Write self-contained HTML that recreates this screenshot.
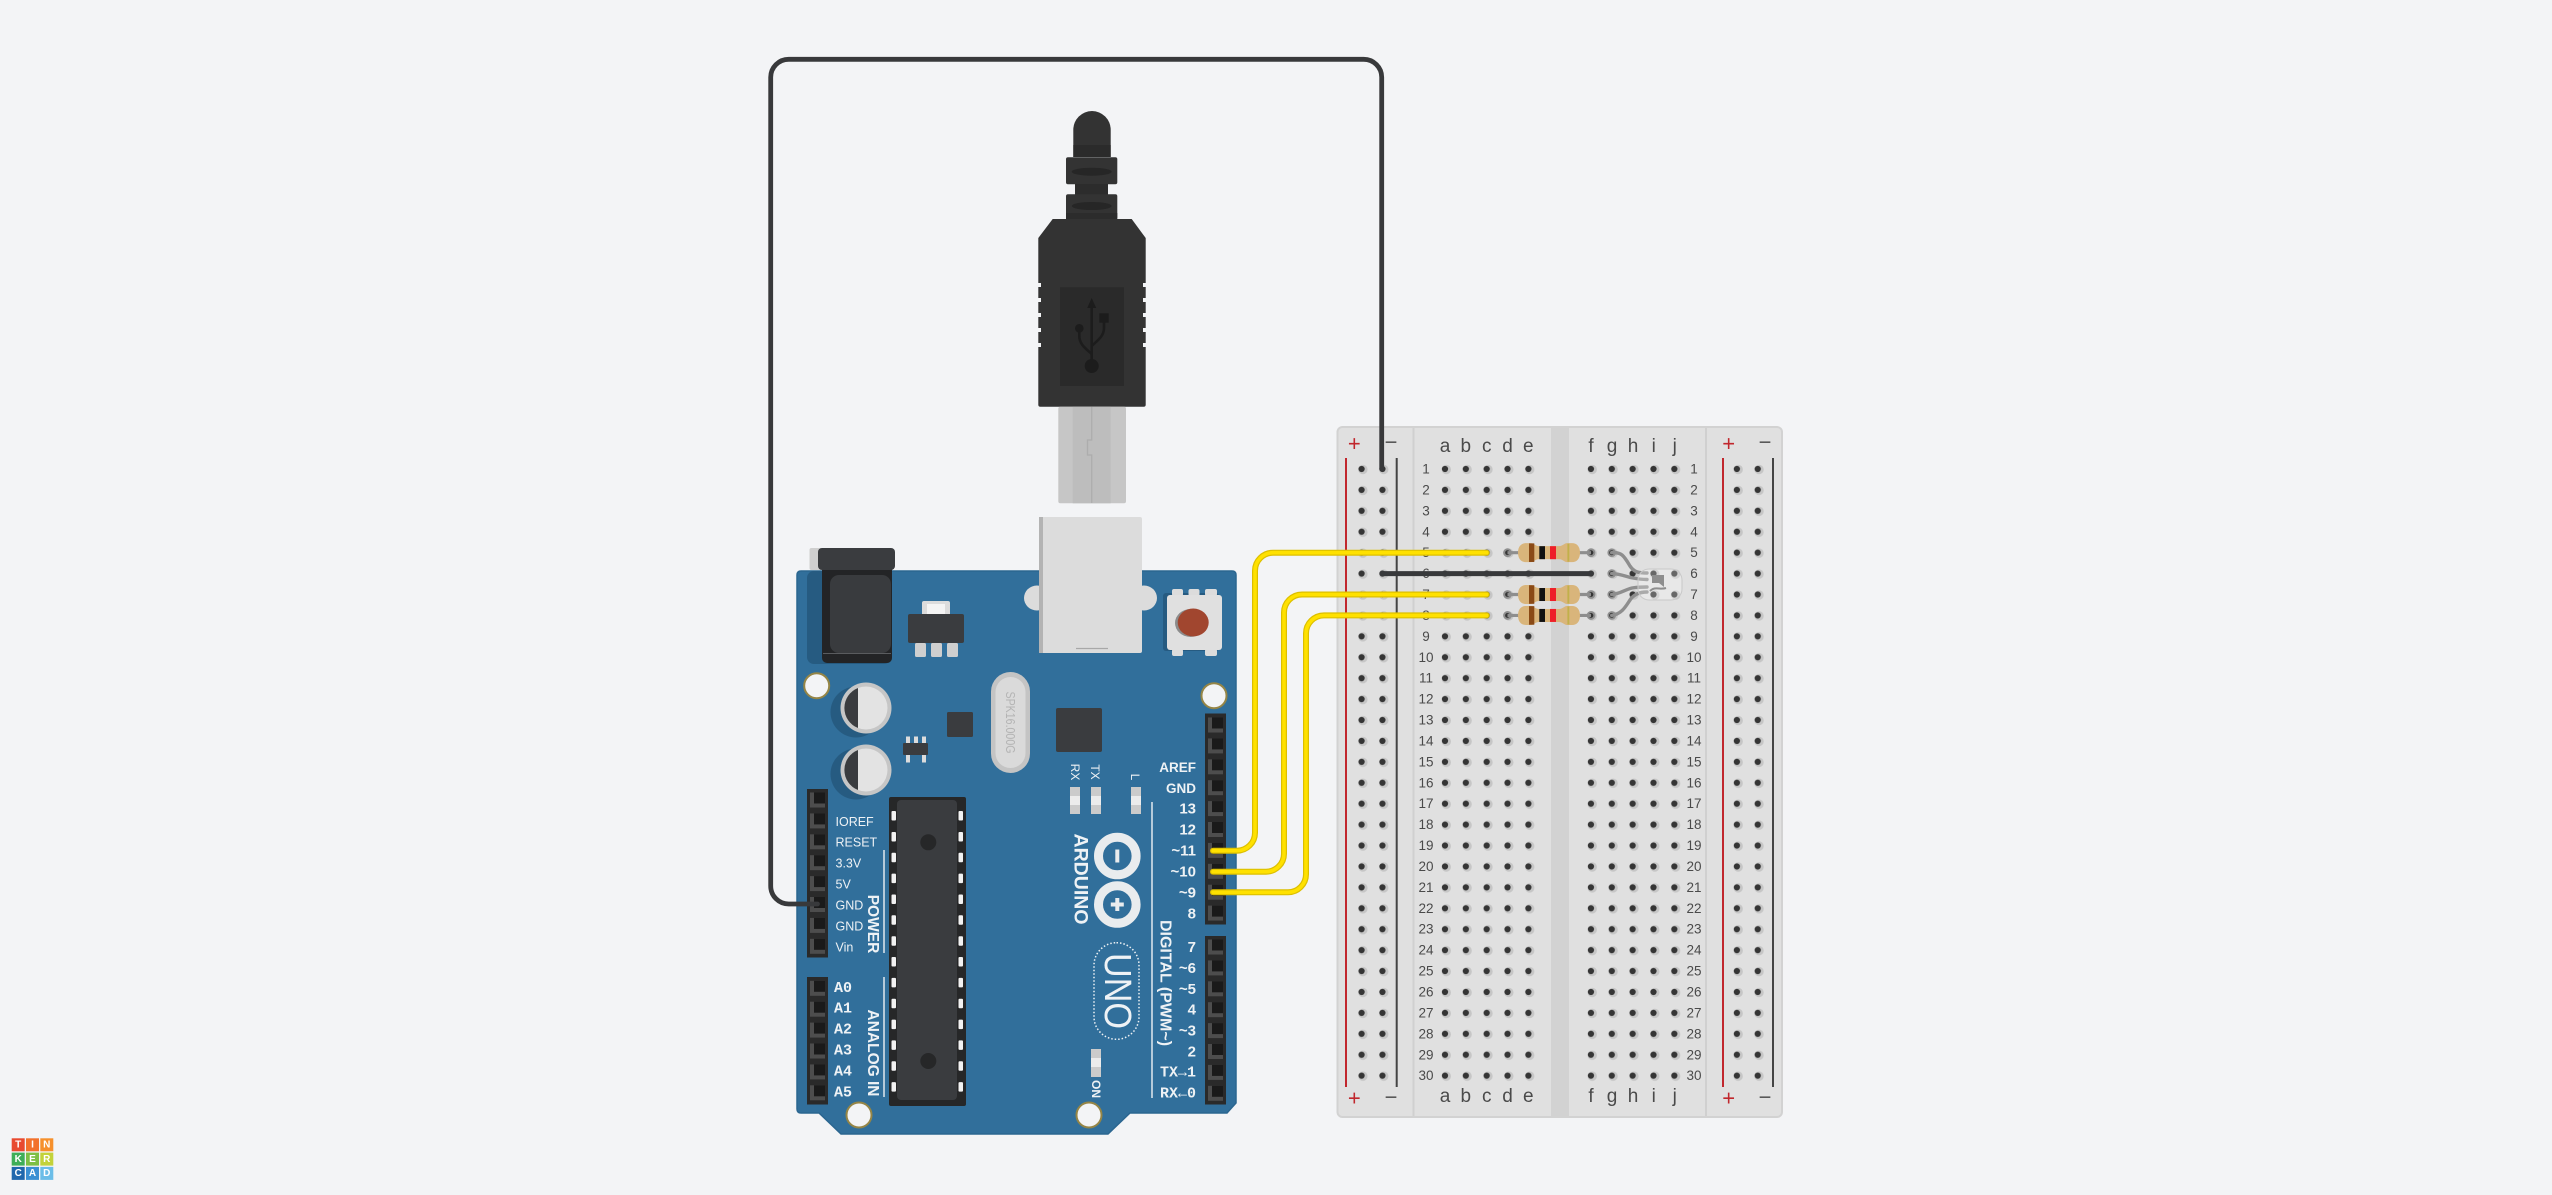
<!DOCTYPE html>
<html><head><meta charset="utf-8">
<style>
html,body{margin:0;padding:0;background:#f3f4f6;width:2552px;height:1195px;overflow:hidden;}
svg{display:block;}
text{font-family:"Liberation Sans",sans-serif;}
</style></head><body>
<svg width="2552" height="1195" viewBox="0 0 2552 1195" xmlns="http://www.w3.org/2000/svg">
<defs>
<pattern id="hole" patternUnits="userSpaceOnUse" x="1434.575" y="458.54" width="20.85" height="20.92">
 <circle cx="11.7" cy="10.96" r="4.7" fill="#c6c6c6"/>
 <circle cx="10.425" cy="10.46" r="3.1" fill="#353535"/>
</pattern>
<g id="pin"><rect x="-7.5" y="-7.5" width="15" height="15" fill="#4d4d4d"/><rect x="-3.5" y="-7.5" width="11" height="11" fill="#1a1a1a"/></g>
<g id="res">
 <line x1="1507.5" y1="0" x2="1591" y2="0" stroke="#8e8e8e" stroke-width="3.2"/>
 <circle cx="1507.5" cy="0" r="3.4" fill="none" stroke="#8e8e8e" stroke-width="2"/>
 <circle cx="1591" cy="0" r="3.4" fill="none" stroke="#8e8e8e" stroke-width="2"/>
 <path d="M1518,0 C1518,-6 1521,-9.5 1526,-9.5 L1531,-9.5 C1534,-9.5 1535,-6.5 1539,-6.5 L1559,-6.5 C1563,-6.5 1564,-9.5 1567,-9.5 L1572,-9.5 C1577,-9.5 1580,-6 1580,0 C1580,6 1577,9.5 1572,9.5 L1567,9.5 C1564,9.5 1563,6.5 1559,6.5 L1539,6.5 C1535,6.5 1534,9.5 1531,9.5 L1526,9.5 C1521,9.5 1518,6 1518,0 Z" fill="#d9b57b"/>
 <rect x="1529" y="-9.3" width="5.3" height="18.6" fill="#8a4a16"/>
 <rect x="1539.3" y="-6.5" width="5.7" height="13" fill="#111"/>
 <rect x="1550" y="-6.5" width="6" height="13" fill="#ee1f28"/>
 <rect x="1567.4" y="-9" width="1.9" height="18" fill="#c2b04a"/>
</g>
</defs>
<rect width="2552" height="1195" fill="#f3f4f6"/>

<!-- ================= BREADBOARD ================= -->
<rect x="1337.5" y="427" width="444.5" height="690" rx="5" fill="#e0e0e0" stroke="#d2d2d2" stroke-width="2"/>
<rect x="1551" y="428" width="18" height="688" fill="#d2d2d2"/>
<line x1="1413.5" y1="428" x2="1413.5" y2="1116" stroke="#d0d0d0" stroke-width="2"/>
<line x1="1706" y1="428" x2="1706" y2="1116" stroke="#d0d0d0" stroke-width="2"/>
<line x1="1346" y1="458" x2="1346" y2="1087" stroke="#c1272d" stroke-width="2"/>
<line x1="1396.7" y1="458" x2="1396.7" y2="1087" stroke="#444" stroke-width="2"/>
<line x1="1723" y1="458" x2="1723" y2="1087" stroke="#c1272d" stroke-width="2"/>
<line x1="1773" y1="458" x2="1773" y2="1087" stroke="#444" stroke-width="2"/>

<rect x="1351.175" y="458.54" width="41.7" height="627.6" fill="url(#hole)"/>
<rect x="1434.575" y="458.54" width="104.25" height="627.6" fill="url(#hole)"/>
<rect x="1580.525" y="458.54" width="104.25" height="627.6" fill="url(#hole)"/>
<rect x="1726.475" y="458.54" width="41.7" height="627.6" fill="url(#hole)"/>

<g font-size="22" fill="#c1272d" text-anchor="middle" dominant-baseline="central">
<text x="1354.3" y="443.5">+</text><text x="1728.7" y="443.5">+</text>
<text x="1354.3" y="1098">+</text><text x="1728.7" y="1098">+</text>
</g>
<g font-size="22" fill="#555" text-anchor="middle" dominant-baseline="central">
<text x="1391" y="442">−</text><text x="1765" y="442">−</text>
<text x="1391" y="1097">−</text><text x="1765" y="1097">−</text>
</g>
<g font-size="19" fill="#4a4a4a" text-anchor="middle">
<text x="1445" y="452">a</text><text x="1465.8" y="452">b</text><text x="1486.7" y="452">c</text><text x="1507.5" y="452">d</text><text x="1528.3" y="452">e</text>
<text x="1591" y="452">f</text><text x="1612" y="452">g</text><text x="1633" y="452">h</text><text x="1653.8" y="452">i</text><text x="1674.7" y="452">j</text>
<text x="1445" y="1102">a</text><text x="1465.8" y="1102">b</text><text x="1486.7" y="1102">c</text><text x="1507.5" y="1102">d</text><text x="1528.3" y="1102">e</text>
<text x="1591" y="1102">f</text><text x="1612" y="1102">g</text><text x="1633" y="1102">h</text><text x="1653.8" y="1102">i</text><text x="1674.7" y="1102">j</text>
</g>
<g font-size="13.5" fill="#4a4a4a" text-anchor="middle" dominant-baseline="central">
<text x="1426" y="469">1</text><text x="1426" y="489.9">2</text><text x="1426" y="510.8">3</text><text x="1426" y="531.8">4</text><text x="1426" y="552.7">5</text><text x="1426" y="573.6">6</text><text x="1426" y="594.5">7</text><text x="1426" y="615.4">8</text><text x="1426" y="636.4">9</text><text x="1426" y="657.3">10</text>
<text x="1426" y="678.2">11</text><text x="1426" y="699.1">12</text><text x="1426" y="720">13</text><text x="1426" y="741">14</text><text x="1426" y="761.9">15</text><text x="1426" y="782.8">16</text><text x="1426" y="803.7">17</text><text x="1426" y="824.6">18</text><text x="1426" y="845.6">19</text><text x="1426" y="866.5">20</text>
<text x="1426" y="887.4">21</text><text x="1426" y="908.3">22</text><text x="1426" y="929.2">23</text><text x="1426" y="950.2">24</text><text x="1426" y="971.1">25</text><text x="1426" y="992">26</text><text x="1426" y="1012.9">27</text><text x="1426" y="1033.8">28</text><text x="1426" y="1054.8">29</text><text x="1426" y="1075.7">30</text>
<text x="1694" y="469">1</text><text x="1694" y="489.9">2</text><text x="1694" y="510.8">3</text><text x="1694" y="531.8">4</text><text x="1694" y="552.7">5</text><text x="1694" y="573.6">6</text><text x="1694" y="594.5">7</text><text x="1694" y="615.4">8</text><text x="1694" y="636.4">9</text><text x="1694" y="657.3">10</text>
<text x="1694" y="678.2">11</text><text x="1694" y="699.1">12</text><text x="1694" y="720">13</text><text x="1694" y="741">14</text><text x="1694" y="761.9">15</text><text x="1694" y="782.8">16</text><text x="1694" y="803.7">17</text><text x="1694" y="824.6">18</text><text x="1694" y="845.6">19</text><text x="1694" y="866.5">20</text>
<text x="1694" y="887.4">21</text><text x="1694" y="908.3">22</text><text x="1694" y="929.2">23</text><text x="1694" y="950.2">24</text><text x="1694" y="971.1">25</text><text x="1694" y="992">26</text><text x="1694" y="1012.9">27</text><text x="1694" y="1033.8">28</text><text x="1694" y="1054.8">29</text><text x="1694" y="1075.7">30</text>
</g>

<!-- RGB LED -->
<g fill="none" stroke="#8e8e8e" stroke-width="3.4" stroke-linecap="round">
 <path d="M1611.7,552.7 C1622,552 1624,556 1630,566 C1634,572 1638,573 1647,573"/>
 <path d="M1611.7,573.6 C1622,574 1626,577 1633,578 C1638,579 1642,579.5 1647,579.5"/>
 <path d="M1611.7,594.5 C1620,594 1624,590 1632,588 C1638,587 1642,587 1647,587"/>
 <path d="M1611.7,615.4 C1622,614 1626,606 1630,600 C1634,594 1640,592 1647,592"/>
</g>
<g fill="none" stroke="#8e8e8e" stroke-width="1.8">
 <circle cx="1611.7" cy="552.7" r="3.4"/><circle cx="1611.7" cy="573.6" r="3.4"/><circle cx="1611.7" cy="594.5" r="3.4"/><circle cx="1611.7" cy="615.4" r="3.4"/>
</g>
<rect x="1638" y="569" width="44" height="31" rx="11" fill="rgba(255,255,255,0.25)" stroke="#c9c9c9" stroke-width="1"/>
<path d="M1652,575 L1664,575 L1664,587 L1659,583 L1652,583 Z" fill="#8e8e8e"/>
<path d="M1650,591 C1655,586 1660,590 1666,588" fill="none" stroke="#8e8e8e" stroke-width="2"/>

<!-- resistors -->
<use href="#res" y="552.68"/>
<use href="#res" y="594.52"/>
<use href="#res" y="615.44"/>

<!-- black wire on breadboard row 6 -->
<line x1="1382" y1="573.6" x2="1591" y2="573.6" stroke="#38393b" stroke-width="5" stroke-linecap="round"/>

<!-- ================= ARDUINO ================= -->
<path d="M797,575 Q797,571 801,571 L1232,571 Q1236,571 1236,575 L1236,1103 L1227,1113 L1130,1113 L1108,1134 L841,1134 L819,1113 L801,1113 Q797,1113 797,1109 Z" fill="#316f9b" stroke="#2b6690" stroke-width="1.5"/>

<!-- power jack -->
<rect x="807" y="571" width="84" height="93" rx="7" fill="#265b81"/>
<rect x="809.5" y="548" width="12" height="22" rx="2" fill="#cfcfcf"/>
<rect x="822" y="558" width="70" height="105" rx="5" fill="#232426"/>
<rect x="818" y="548" width="77" height="22" rx="4" fill="#3a3c3f"/>
<rect x="830" y="575" width="61" height="78" rx="9" fill="#393b3e"/>
<line x1="823" y1="653.5" x2="891" y2="653.5" stroke="#5a5c5f" stroke-width="1"/>

<!-- regulator -->
<rect x="922" y="601" width="28" height="15" rx="2" fill="#dcdcdc"/>
<rect x="927" y="604" width="18" height="10" fill="#f4f4f4"/>
<rect x="908" y="614" width="56" height="29" rx="2" fill="#3a3c3f"/>
<rect x="915" y="643" width="11" height="14" rx="1.5" fill="#cfcfcf"/>
<rect x="931" y="643" width="11" height="14" rx="1.5" fill="#cfcfcf"/>
<rect x="947" y="643" width="11" height="14" rx="1.5" fill="#cfcfcf"/>

<!-- mounting holes -->
<g fill="#f3f4f6" stroke="#958546" stroke-width="2">
<circle cx="816.7" cy="685.7" r="12.5"/><circle cx="1214" cy="695.7" r="12.5"/>
<circle cx="859" cy="1115" r="12.5"/><circle cx="1089" cy="1115" r="12.5"/>
</g>

<!-- capacitors -->
<circle cx="856" cy="712" r="25.5" fill="#265b81"/>
<circle cx="866" cy="708" r="25.5" fill="#c6c6c6"/>
<circle cx="866" cy="708" r="21.5" fill="#e3e3e3"/>
<path d="M858,688 A21.5,21.5 0 0 0 858,728 Z" fill="#3a3c3f"/>
<circle cx="856" cy="774" r="25.5" fill="#265b81"/>
<circle cx="866" cy="770" r="25.5" fill="#c6c6c6"/>
<circle cx="866" cy="770" r="21.5" fill="#e3e3e3"/>
<path d="M858,750 A21.5,21.5 0 0 0 858,790 Z" fill="#3a3c3f"/>

<!-- small chip, transistor -->
<rect x="947" y="712" width="26" height="25" rx="1.5" fill="#3a3c3f"/>
<g fill="#dcdcdc">
<rect x="906" y="736.5" width="4" height="7"/><rect x="914" y="736.5" width="4" height="7"/><rect x="922" y="736.5" width="4" height="7"/>
<rect x="906" y="755" width="4" height="7.5"/><rect x="922" y="755" width="4" height="7.5"/>
</g>
<rect x="903" y="743" width="25" height="12" rx="1" fill="#3a3c3f"/>

<!-- crystal -->
<rect x="991" y="672" width="39" height="101" rx="19.5" fill="#c4c4c4"/>
<rect x="995.5" y="677" width="30" height="91" rx="15" fill="#dadada"/>
<text transform="translate(1010.5,722.5) rotate(90)" font-size="13" fill="#b4b4b4" text-anchor="middle" dominant-baseline="central" textLength="62" lengthAdjust="spacingAndGlyphs">SPK16.000G</text>

<!-- USB socket -->
<ellipse cx="1037" cy="598" rx="13" ry="12.5" fill="#dcdcdc"/>
<ellipse cx="1144" cy="598" rx="13" ry="12.5" fill="#dcdcdc"/>
<rect x="1039" y="517" width="103" height="136" rx="2" fill="#dcdcdc"/>
<rect x="1039" y="517" width="4" height="136" fill="#b3b3b3"/>
<line x1="1076" y1="648.5" x2="1108" y2="648.5" stroke="#a8a8a8" stroke-width="1.2"/>

<!-- reset button -->
<rect x="1163" y="593" width="56" height="58" rx="3" fill="#265b81"/>
<g fill="#dcdcdc">
<rect x="1172" y="589" width="11" height="7" rx="2"/><rect x="1188.5" y="589" width="11" height="7" rx="2"/><rect x="1205" y="589" width="12" height="7" rx="2"/>
<rect x="1172" y="649" width="11" height="7" rx="2"/><rect x="1205" y="649" width="12" height="7" rx="2"/>
</g>
<rect x="1167" y="595" width="55" height="55" rx="3" fill="#e0e0e0"/>
<ellipse cx="1190.5" cy="623" rx="15.5" ry="14" fill="#8c8c8c"/>
<ellipse cx="1193.2" cy="622.5" rx="15.5" ry="14" fill="#a1462f"/>

<!-- 16U2 -->
<rect x="1056" y="708" width="46" height="44" rx="2" fill="#3a3c3f"/>

<!-- LEDs -->
<g>
<rect x="1070" y="787" width="10" height="27" fill="#cbcbcb"/><rect x="1070" y="796" width="10" height="9" fill="#ececec"/>
<rect x="1091" y="787" width="10" height="27" fill="#cbcbcb"/><rect x="1091" y="796" width="10" height="9" fill="#ececec"/>
<rect x="1131" y="787" width="10" height="27" fill="#cbcbcb"/><rect x="1131" y="796" width="10" height="9" fill="#ececec"/>
<rect x="1091" y="1049" width="10" height="28" fill="#cbcbcb"/><rect x="1091" y="1058" width="10" height="9" fill="#ececec"/>
</g>
<g font-size="12" fill="#eef2f5" dominant-baseline="central" text-anchor="middle">
<text transform="translate(1075,772) rotate(90)">RX</text>
<text transform="translate(1095,772) rotate(90)">TX</text>
<text transform="translate(1135,777) rotate(90)">L</text>
<text transform="translate(1096,1089) rotate(90)" font-weight="bold">ON</text>
</g>

<!-- ATmega328 -->
<rect x="889" y="797" width="77" height="309" rx="2" fill="#262728"/>
<rect x="897" y="800" width="60" height="300" rx="4" fill="#3a3c3f"/>
<g fill="#f2f2f2">
<rect x="891.5" y="811" width="4.5" height="9.5" rx="1"/><rect x="891.5" y="832" width="4.5" height="9.5" rx="1"/><rect x="891.5" y="852.8" width="4.5" height="9.5" rx="1"/><rect x="891.5" y="873.6" width="4.5" height="9.5" rx="1"/><rect x="891.5" y="894.5" width="4.5" height="9.5" rx="1"/><rect x="891.5" y="915.3" width="4.5" height="9.5" rx="1"/><rect x="891.5" y="936.2" width="4.5" height="9.5" rx="1"/><rect x="891.5" y="957" width="4.5" height="9.5" rx="1"/><rect x="891.5" y="977.9" width="4.5" height="9.5" rx="1"/><rect x="891.5" y="998.7" width="4.5" height="9.5" rx="1"/><rect x="891.5" y="1019.6" width="4.5" height="9.5" rx="1"/><rect x="891.5" y="1040.4" width="4.5" height="9.5" rx="1"/><rect x="891.5" y="1061.3" width="4.5" height="9.5" rx="1"/><rect x="891.5" y="1082.1" width="4.5" height="9.5" rx="1"/>
<rect x="958.5" y="811" width="4.5" height="9.5" rx="1"/><rect x="958.5" y="832" width="4.5" height="9.5" rx="1"/><rect x="958.5" y="852.8" width="4.5" height="9.5" rx="1"/><rect x="958.5" y="873.6" width="4.5" height="9.5" rx="1"/><rect x="958.5" y="894.5" width="4.5" height="9.5" rx="1"/><rect x="958.5" y="915.3" width="4.5" height="9.5" rx="1"/><rect x="958.5" y="936.2" width="4.5" height="9.5" rx="1"/><rect x="958.5" y="957" width="4.5" height="9.5" rx="1"/><rect x="958.5" y="977.9" width="4.5" height="9.5" rx="1"/><rect x="958.5" y="998.7" width="4.5" height="9.5" rx="1"/><rect x="958.5" y="1019.6" width="4.5" height="9.5" rx="1"/><rect x="958.5" y="1040.4" width="4.5" height="9.5" rx="1"/><rect x="958.5" y="1061.3" width="4.5" height="9.5" rx="1"/><rect x="958.5" y="1082.1" width="4.5" height="9.5" rx="1"/>
</g>
<circle cx="928.3" cy="842.3" r="8" fill="#262728"/>
<circle cx="928.3" cy="1061" r="8" fill="#262728"/>

<!-- headers -->
<rect x="1205" y="713.5" width="21" height="211" fill="#2a2a2a"/>
<rect x="1205" y="936" width="21" height="168.5" fill="#2a2a2a"/>
<rect x="807" y="789" width="21" height="168.5" fill="#2a2a2a"/>
<rect x="807" y="977" width="21" height="127.5" fill="#2a2a2a"/>
<g>
<use href="#pin" x="1215.5" y="725"/><use href="#pin" x="1215.5" y="745.9"/><use href="#pin" x="1215.5" y="766.8"/><use href="#pin" x="1215.5" y="787.7"/><use href="#pin" x="1215.5" y="808.6"/><use href="#pin" x="1215.5" y="829.5"/><use href="#pin" x="1215.5" y="850.4"/><use href="#pin" x="1215.5" y="871.3"/><use href="#pin" x="1215.5" y="892.2"/><use href="#pin" x="1215.5" y="913.1"/>
<use href="#pin" x="1215.5" y="947"/><use href="#pin" x="1215.5" y="967.9"/><use href="#pin" x="1215.5" y="988.8"/><use href="#pin" x="1215.5" y="1009.7"/><use href="#pin" x="1215.5" y="1030.6"/><use href="#pin" x="1215.5" y="1051.5"/><use href="#pin" x="1215.5" y="1072.4"/><use href="#pin" x="1215.5" y="1093.3"/>
<use href="#pin" x="817.5" y="800"/><use href="#pin" x="817.5" y="820.9"/><use href="#pin" x="817.5" y="841.8"/><use href="#pin" x="817.5" y="862.7"/><use href="#pin" x="817.5" y="883.6"/><use href="#pin" x="817.5" y="904.5"/><use href="#pin" x="817.5" y="925.4"/><use href="#pin" x="817.5" y="946.3"/>
<use href="#pin" x="817.5" y="988.3"/><use href="#pin" x="817.5" y="1009.2"/><use href="#pin" x="817.5" y="1030.1"/><use href="#pin" x="817.5" y="1051"/><use href="#pin" x="817.5" y="1071.9"/><use href="#pin" x="817.5" y="1092.8"/>
</g>

<!-- board lines -->
<g stroke="#eef2f5" stroke-width="1.4">
<line x1="884" y1="850" x2="884" y2="953"/>
<line x1="884" y1="977" x2="884" y2="1097"/>
<line x1="1152" y1="802" x2="1152" y2="1098"/>
</g>

<!-- labels -->
<g fill="#eef2f5" dominant-baseline="central">
<g font-size="12.5">
<text x="835.5" y="822">IOREF</text><text x="835.5" y="842.7">RESET</text><text x="835.5" y="863.7">3.3V</text><text x="835.5" y="884.3">5V</text><text x="835.5" y="905.7">GND</text><text x="835.5" y="926.7">GND</text><text x="835.5" y="947.3">Vin</text>
</g>
<g font-family="Liberation Mono, monospace" font-weight="bold" font-size="15">
<text x="834" y="988.3" style="font-family:'Liberation Mono',monospace">A0</text><text x="834" y="1009.2" style="font-family:'Liberation Mono',monospace">A1</text><text x="834" y="1030.1" style="font-family:'Liberation Mono',monospace">A2</text><text x="834" y="1051" style="font-family:'Liberation Mono',monospace">A3</text><text x="834" y="1071.9" style="font-family:'Liberation Mono',monospace">A4</text><text x="834" y="1092.8" style="font-family:'Liberation Mono',monospace">A5</text>
</g>
<g font-weight="bold" text-anchor="end">
<text x="1196" y="767.5" font-size="13.5">AREF</text><text x="1196" y="788.3" font-size="13.5">GND</text>
<g font-size="15">
<text x="1196" y="809">13</text><text x="1196" y="830">12</text><text x="1196" y="851">~11</text><text x="1196" y="872">~10</text><text x="1196" y="893">~9</text><text x="1196" y="914">8</text>
<text x="1196" y="947.5">7</text><text x="1196" y="968.5">~6</text><text x="1196" y="989.3">~5</text><text x="1196" y="1010.2">4</text><text x="1196" y="1031">~3</text><text x="1196" y="1052">2</text>
<text x="1196" y="1073" style="font-family:'Liberation Mono',monospace">TX→1</text><text x="1196" y="1093.8" style="font-family:'Liberation Mono',monospace">RX←0</text>
</g>
</g>
<g font-weight="bold" text-anchor="middle">
<text transform="translate(872.7,924) rotate(90)" font-size="15.5">POWER</text>
<text transform="translate(872.7,1053) rotate(90)" font-size="15.5">ANALOG IN</text>
<text transform="translate(1165,983) rotate(90)" font-size="16">DIGITAL (PWM~)</text>
<text transform="translate(1080.7,879) rotate(90)" font-size="19.5">ARDUINO</text>
</g>
<text transform="translate(1117,991) rotate(90)" font-size="38" text-anchor="middle" textLength="76" lengthAdjust="spacingAndGlyphs">UNO</text>
</g>

<!-- arduino logo -->
<g fill="none" stroke="#e9ecee" stroke-width="9">
<circle cx="1117.3" cy="856" r="18.8"/>
<circle cx="1117.3" cy="904.5" r="18.8"/>
</g>
<g fill="#e9ecee">
<rect x="1115.3" y="849.5" width="4" height="13"/>
<rect x="1115.3" y="898" width="4" height="13"/>
<rect x="1110.8" y="902.5" width="13" height="4"/>
</g>
<rect x="1094" y="942.7" width="45" height="96.6" rx="22.5" fill="none" stroke="#eef2f5" stroke-width="1.5" stroke-dasharray="1.5 2"/>

<!-- ================= WIRES ================= -->
<path d="M817.5,904 H788.7 A18,18 0 0 1 770.7,886 V77.3 A18,18 0 0 1 788.7,59.3 H1363.7 A18,18 0 0 1 1381.7,77.3 V469" fill="none" stroke="#38393b" stroke-width="4.8" stroke-linecap="round"/>

<g fill="none" stroke-linecap="round">
<g stroke="#dcbf00" stroke-width="6">
<path d="M1213,850.7 H1237 A18,18 0 0 0 1255,832.7 V570.7 A18,18 0 0 1 1273,552.7 H1486.7"/>
<path d="M1213,871.7 H1266 A18,18 0 0 0 1284,853.7 V612.5 A18,18 0 0 1 1302,594.5 H1486.7"/>
<path d="M1213,892.3 H1288 A18,18 0 0 0 1306,874.3 V633.4 A18,18 0 0 1 1324,615.4 H1486.7"/>
</g>
<g stroke="#ffe100" stroke-width="3.6">
<path d="M1213,850.7 H1237 A18,18 0 0 0 1255,832.7 V570.7 A18,18 0 0 1 1273,552.7 H1486.7"/>
<path d="M1213,871.7 H1266 A18,18 0 0 0 1284,853.7 V612.5 A18,18 0 0 1 1302,594.5 H1486.7"/>
<path d="M1213,892.3 H1288 A18,18 0 0 0 1306,874.3 V633.4 A18,18 0 0 1 1324,615.4 H1486.7"/>
</g>
</g>

<!-- ================= USB PLUG ================= -->
<path d="M1073.3,157 V129.7 A18.7,18.7 0 0 1 1110.7,129.7 V157 Z" fill="#333"/>
<rect x="1073.3" y="145" width="37.4" height="12" fill="#2b2b2b"/>
<rect x="1066" y="157.3" width="51.3" height="27" rx="2" fill="#333"/>
<ellipse cx="1091.7" cy="171.7" rx="20" ry="4" fill="#262626"/>
<rect x="1075" y="184" width="33" height="10.5" fill="#2c2c2c"/>
<rect x="1066" y="194.3" width="51.3" height="25" rx="2" fill="#333"/>
<ellipse cx="1091.7" cy="206" rx="20" ry="4" fill="#262626"/>
<rect x="1066" y="213" width="51.3" height="6" fill="#2c2c2c"/>
<path d="M1052.7,219 H1131.7 L1145.7,238 V404.7 Q1145.7,406.7 1143.7,406.7 H1040.3 Q1038.3,406.7 1038.3,404.7 V238 Z" fill="#333"/>
<g fill="#f3f4f6">
<rect x="1038" y="283" width="3" height="4"/><rect x="1038" y="298" width="3" height="4"/><rect x="1038" y="313" width="3" height="4"/><rect x="1038" y="328" width="3" height="4"/><rect x="1038" y="343" width="3" height="4"/>
<rect x="1143" y="283" width="3" height="4"/><rect x="1143" y="298" width="3" height="4"/><rect x="1143" y="313" width="3" height="4"/><rect x="1143" y="328" width="3" height="4"/><rect x="1143" y="343" width="3" height="4"/>
</g>
<rect x="1060" y="287.3" width="64" height="98.7" fill="#2a2a2a"/>
<g fill="#1c1c1c" stroke="#1c1c1c">
<line x1="1091.7" y1="305" x2="1091.7" y2="366" stroke-width="2.6"/>
<path d="M1087.2,308 L1096.2,308 L1091.7,298 Z" stroke="none"/>
<circle cx="1091.7" cy="366" r="7" stroke="none"/>
<path d="M1091.7,354 C1085,348 1079.3,344 1079.3,336 V329" fill="none" stroke-width="2.6"/>
<circle cx="1079.3" cy="328.3" r="4.3" stroke="none"/>
<path d="M1091.7,346 C1098,340 1104,336 1104,328 V320" fill="none" stroke-width="2.6"/>
<rect x="1099.3" y="313.3" width="9.4" height="9.4" stroke="none"/>
</g>
<rect x="1058.3" y="406.7" width="67.7" height="96.6" rx="2" fill="#c6c6c6"/>
<rect x="1072.7" y="406.7" width="38" height="96.6" fill="#bdbdbd"/>
<path d="M1091.7,406.7 V440 H1087.5 V455 H1091.7 V503" fill="none" stroke="#adadad" stroke-width="1.3"/>

<!-- ================= TINKERCAD LOGO ================= -->
<g>
<rect x="11.7" y="1138.3" width="13" height="13" fill="#e8492f"/>
<rect x="26" y="1138.3" width="13" height="13" fill="#f2712b"/>
<rect x="40.3" y="1138.3" width="13" height="13" fill="#f6902c"/>
<rect x="11.7" y="1152.6" width="13" height="13" fill="#3fae58"/>
<rect x="26" y="1152.6" width="13" height="13" fill="#7dbf44"/>
<rect x="40.3" y="1152.6" width="13" height="13" fill="#c3d23a"/>
<rect x="11.7" y="1166.9" width="13" height="13" fill="#1f67ad"/>
<rect x="26" y="1166.9" width="13" height="13" fill="#3b90d3"/>
<rect x="40.3" y="1166.9" width="13" height="13" fill="#6bbde8"/>
</g>
<g font-size="10" font-weight="bold" fill="#fff" text-anchor="middle" dominant-baseline="central">
<text x="18.2" y="1145">T</text><text x="32.5" y="1145">I</text><text x="46.8" y="1145">N</text>
<text x="18.2" y="1159.3">K</text><text x="32.5" y="1159.3">E</text><text x="46.8" y="1159.3">R</text>
<text x="18.2" y="1173.6">C</text><text x="32.5" y="1173.6">A</text><text x="46.8" y="1173.6">D</text>
</g>
</svg>
</body></html>
